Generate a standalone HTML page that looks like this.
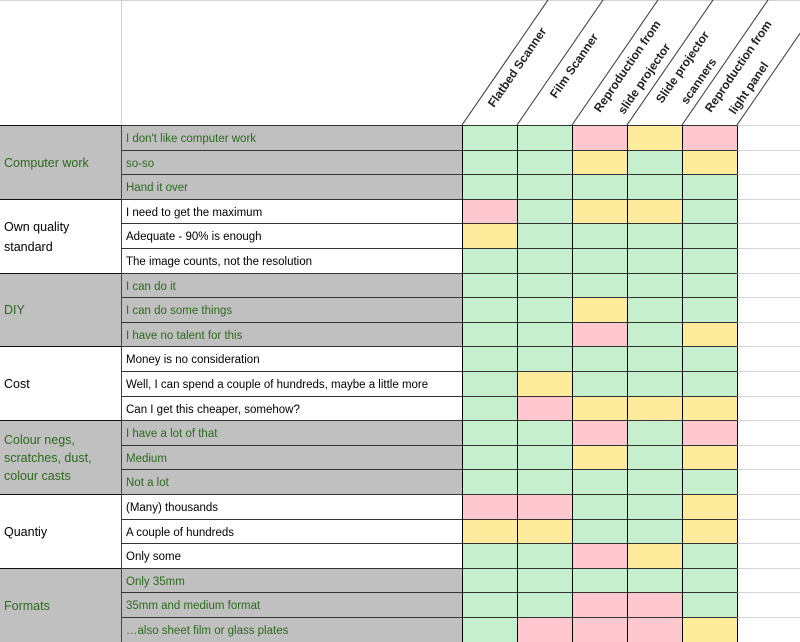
<!DOCTYPE html>
<html><head><meta charset="utf-8"><style>
body{margin:0;width:800px;height:642px;overflow:hidden;background:#fff;font-family:"Liberation Sans",Arial,sans-serif;position:relative}
.a,.b,.c,.x{position:absolute;box-sizing:border-box;border-top:1px solid #333}
.a{left:0;width:122px;font-size:12.5px;padding-left:4px;display:flex;align-items:center;line-height:18px;border-top:1px solid #111}
.b{left:121px;width:341px;font-size:11.5px;padding:7px 0 0 4px;border-left:1px solid #444;white-space:nowrap}
.c{width:56px;border-left:1px solid #000}
.x{left:737px;width:63px;border-top:1px solid #d4d4d4;border-left:1px solid #000}
.g{background:#c0c0c0;color:#2c6a1e}
.G{background:#c6efce}.Y{background:#ffeb9c}.P{background:#ffc7ce}
</style></head><body>
<svg width="800" height="126" style="position:absolute;left:0;top:0">
<line x1="0" y1="0.5" x2="800" y2="0.5" stroke="#d4d4d4"/>
<line x1="121.5" y1="0" x2="121.5" y2="125" stroke="#d0d0d0"/>
<g stroke="#333" stroke-width="1">
<line x1="462" y1="125" x2="548" y2="0"/>
<line x1="517" y1="125" x2="603" y2="0"/>
<line x1="572" y1="125" x2="658" y2="0"/>
<line x1="627" y1="125" x2="713" y2="0"/>
<line x1="682" y1="125" x2="768" y2="0"/>
<line x1="737" y1="125" x2="823" y2="0"/>
</g>
<g font-family="Liberation Sans, Arial, sans-serif" font-size="12" font-weight="bold" fill="#222">
<text transform="translate(494,108) rotate(-55.5)">Flatbed Scanner</text>
<text transform="translate(556,99) rotate(-55.5)">Film Scanner</text>
<text transform="translate(600,113) rotate(-55.5)">Reproduction from</text>
<text transform="translate(624,115) rotate(-55.5)">slide projector</text>
<text transform="translate(662,104) rotate(-55.5)">Slide projector</text>
<text transform="translate(687,105) rotate(-55.5)">scanners</text>
<text transform="translate(711,113) rotate(-55.5)">Reproduction from</text>
<text transform="translate(735,115) rotate(-55.5)">light panel</text>
</g>
</svg>

<div class="a g" style="top:125px;height:74px">Computer work</div>
<div class="a" style="top:199px;height:74px;line-height:20px">Own quality<br>standard</div>
<div class="a g" style="top:273px;height:73px">DIY</div>
<div class="a" style="top:346px;height:74px">Cost</div>
<div class="a g" style="top:420px;height:74px">Colour negs,<br>scratches, dust,<br>colour casts</div>
<div class="a" style="top:494px;height:74px">Quantiy</div>
<div class="a g" style="top:568px;height:74px">Formats</div>

<div class="b g" style="top:125px;height:25px">I don't like computer work</div>
<div class="c G" style="left:462px;top:125px;height:25px"></div><div class="c G" style="left:517px;top:125px;height:25px"></div><div class="c P" style="left:572px;top:125px;height:25px"></div><div class="c Y" style="left:627px;top:125px;height:25px"></div><div class="c P" style="left:682px;top:125px;height:25px"></div><div class="x" style="top:125px;height:25px"></div>

<div class="b g" style="top:150px;height:24px">so-so</div>
<div class="c G" style="left:462px;top:150px;height:24px"></div><div class="c G" style="left:517px;top:150px;height:24px"></div><div class="c Y" style="left:572px;top:150px;height:24px"></div><div class="c G" style="left:627px;top:150px;height:24px"></div><div class="c Y" style="left:682px;top:150px;height:24px"></div><div class="x" style="top:150px;height:24px"></div>

<div class="b g" style="top:174px;height:25px">Hand it over</div>
<div class="c G" style="left:462px;top:174px;height:25px"></div><div class="c G" style="left:517px;top:174px;height:25px"></div><div class="c G" style="left:572px;top:174px;height:25px"></div><div class="c G" style="left:627px;top:174px;height:25px"></div><div class="c G" style="left:682px;top:174px;height:25px"></div><div class="x" style="top:174px;height:25px"></div>

<div class="b" style="top:199px;height:24px">I need to get the maximum</div>
<div class="c P" style="left:462px;top:199px;height:24px"></div><div class="c G" style="left:517px;top:199px;height:24px"></div><div class="c Y" style="left:572px;top:199px;height:24px"></div><div class="c Y" style="left:627px;top:199px;height:24px"></div><div class="c G" style="left:682px;top:199px;height:24px"></div><div class="x" style="top:199px;height:24px"></div>

<div class="b" style="top:223px;height:25px">Adequate - 90% is enough</div>
<div class="c Y" style="left:462px;top:223px;height:25px"></div><div class="c G" style="left:517px;top:223px;height:25px"></div><div class="c G" style="left:572px;top:223px;height:25px"></div><div class="c G" style="left:627px;top:223px;height:25px"></div><div class="c G" style="left:682px;top:223px;height:25px"></div><div class="x" style="top:223px;height:25px"></div>

<div class="b" style="top:248px;height:25px">The image counts, not the resolution</div>
<div class="c G" style="left:462px;top:248px;height:25px"></div><div class="c G" style="left:517px;top:248px;height:25px"></div><div class="c G" style="left:572px;top:248px;height:25px"></div><div class="c G" style="left:627px;top:248px;height:25px"></div><div class="c G" style="left:682px;top:248px;height:25px"></div><div class="x" style="top:248px;height:25px"></div>

<div class="b g" style="top:273px;height:24px">I can do it</div>
<div class="c G" style="left:462px;top:273px;height:24px"></div><div class="c G" style="left:517px;top:273px;height:24px"></div><div class="c G" style="left:572px;top:273px;height:24px"></div><div class="c G" style="left:627px;top:273px;height:24px"></div><div class="c G" style="left:682px;top:273px;height:24px"></div><div class="x" style="top:273px;height:24px"></div>

<div class="b g" style="top:297px;height:25px">I can do some things</div>
<div class="c G" style="left:462px;top:297px;height:25px"></div><div class="c G" style="left:517px;top:297px;height:25px"></div><div class="c Y" style="left:572px;top:297px;height:25px"></div><div class="c G" style="left:627px;top:297px;height:25px"></div><div class="c G" style="left:682px;top:297px;height:25px"></div><div class="x" style="top:297px;height:25px"></div>

<div class="b g" style="top:322px;height:24px">I have no talent for this</div>
<div class="c G" style="left:462px;top:322px;height:24px"></div><div class="c G" style="left:517px;top:322px;height:24px"></div><div class="c P" style="left:572px;top:322px;height:24px"></div><div class="c G" style="left:627px;top:322px;height:24px"></div><div class="c Y" style="left:682px;top:322px;height:24px"></div><div class="x" style="top:322px;height:24px"></div>

<div class="b" style="top:346px;height:25px">Money is no consideration</div>
<div class="c G" style="left:462px;top:346px;height:25px"></div><div class="c G" style="left:517px;top:346px;height:25px"></div><div class="c G" style="left:572px;top:346px;height:25px"></div><div class="c G" style="left:627px;top:346px;height:25px"></div><div class="c G" style="left:682px;top:346px;height:25px"></div><div class="x" style="top:346px;height:25px"></div>

<div class="b" style="top:371px;height:25px">Well, I can spend a couple of hundreds, maybe a little more</div>
<div class="c G" style="left:462px;top:371px;height:25px"></div><div class="c Y" style="left:517px;top:371px;height:25px"></div><div class="c G" style="left:572px;top:371px;height:25px"></div><div class="c G" style="left:627px;top:371px;height:25px"></div><div class="c G" style="left:682px;top:371px;height:25px"></div><div class="x" style="top:371px;height:25px"></div>

<div class="b" style="top:396px;height:24px">Can I get this cheaper, somehow?</div>
<div class="c G" style="left:462px;top:396px;height:24px"></div><div class="c P" style="left:517px;top:396px;height:24px"></div><div class="c Y" style="left:572px;top:396px;height:24px"></div><div class="c Y" style="left:627px;top:396px;height:24px"></div><div class="c Y" style="left:682px;top:396px;height:24px"></div><div class="x" style="top:396px;height:24px"></div>

<div class="b g" style="top:420px;height:25px">I have a lot of that</div>
<div class="c G" style="left:462px;top:420px;height:25px"></div><div class="c G" style="left:517px;top:420px;height:25px"></div><div class="c P" style="left:572px;top:420px;height:25px"></div><div class="c G" style="left:627px;top:420px;height:25px"></div><div class="c P" style="left:682px;top:420px;height:25px"></div><div class="x" style="top:420px;height:25px"></div>

<div class="b g" style="top:445px;height:24px">Medium</div>
<div class="c G" style="left:462px;top:445px;height:24px"></div><div class="c G" style="left:517px;top:445px;height:24px"></div><div class="c Y" style="left:572px;top:445px;height:24px"></div><div class="c G" style="left:627px;top:445px;height:24px"></div><div class="c Y" style="left:682px;top:445px;height:24px"></div><div class="x" style="top:445px;height:24px"></div>

<div class="b g" style="top:469px;height:25px">Not a lot</div>
<div class="c G" style="left:462px;top:469px;height:25px"></div><div class="c G" style="left:517px;top:469px;height:25px"></div><div class="c G" style="left:572px;top:469px;height:25px"></div><div class="c G" style="left:627px;top:469px;height:25px"></div><div class="c G" style="left:682px;top:469px;height:25px"></div><div class="x" style="top:469px;height:25px"></div>

<div class="b" style="top:494px;height:25px">(Many) thousands</div>
<div class="c P" style="left:462px;top:494px;height:25px"></div><div class="c P" style="left:517px;top:494px;height:25px"></div><div class="c G" style="left:572px;top:494px;height:25px"></div><div class="c G" style="left:627px;top:494px;height:25px"></div><div class="c Y" style="left:682px;top:494px;height:25px"></div><div class="x" style="top:494px;height:25px"></div>

<div class="b" style="top:519px;height:24px">A couple of hundreds</div>
<div class="c Y" style="left:462px;top:519px;height:24px"></div><div class="c Y" style="left:517px;top:519px;height:24px"></div><div class="c G" style="left:572px;top:519px;height:24px"></div><div class="c G" style="left:627px;top:519px;height:24px"></div><div class="c Y" style="left:682px;top:519px;height:24px"></div><div class="x" style="top:519px;height:24px"></div>

<div class="b" style="top:543px;height:25px">Only some</div>
<div class="c G" style="left:462px;top:543px;height:25px"></div><div class="c G" style="left:517px;top:543px;height:25px"></div><div class="c P" style="left:572px;top:543px;height:25px"></div><div class="c Y" style="left:627px;top:543px;height:25px"></div><div class="c G" style="left:682px;top:543px;height:25px"></div><div class="x" style="top:543px;height:25px"></div>

<div class="b g" style="top:568px;height:24px">Only 35mm</div>
<div class="c G" style="left:462px;top:568px;height:24px"></div><div class="c G" style="left:517px;top:568px;height:24px"></div><div class="c G" style="left:572px;top:568px;height:24px"></div><div class="c G" style="left:627px;top:568px;height:24px"></div><div class="c G" style="left:682px;top:568px;height:24px"></div><div class="x" style="top:568px;height:24px"></div>

<div class="b g" style="top:592px;height:25px">35mm and medium format</div>
<div class="c G" style="left:462px;top:592px;height:25px"></div><div class="c G" style="left:517px;top:592px;height:25px"></div><div class="c P" style="left:572px;top:592px;height:25px"></div><div class="c P" style="left:627px;top:592px;height:25px"></div><div class="c G" style="left:682px;top:592px;height:25px"></div><div class="x" style="top:592px;height:25px"></div>

<div class="b g" style="top:617px;height:25px">…also sheet film or glass plates</div>
<div class="c G" style="left:462px;top:617px;height:25px"></div><div class="c P" style="left:517px;top:617px;height:25px"></div><div class="c P" style="left:572px;top:617px;height:25px"></div><div class="c P" style="left:627px;top:617px;height:25px"></div><div class="c Y" style="left:682px;top:617px;height:25px"></div><div class="x" style="top:617px;height:25px"></div>
</body></html>
